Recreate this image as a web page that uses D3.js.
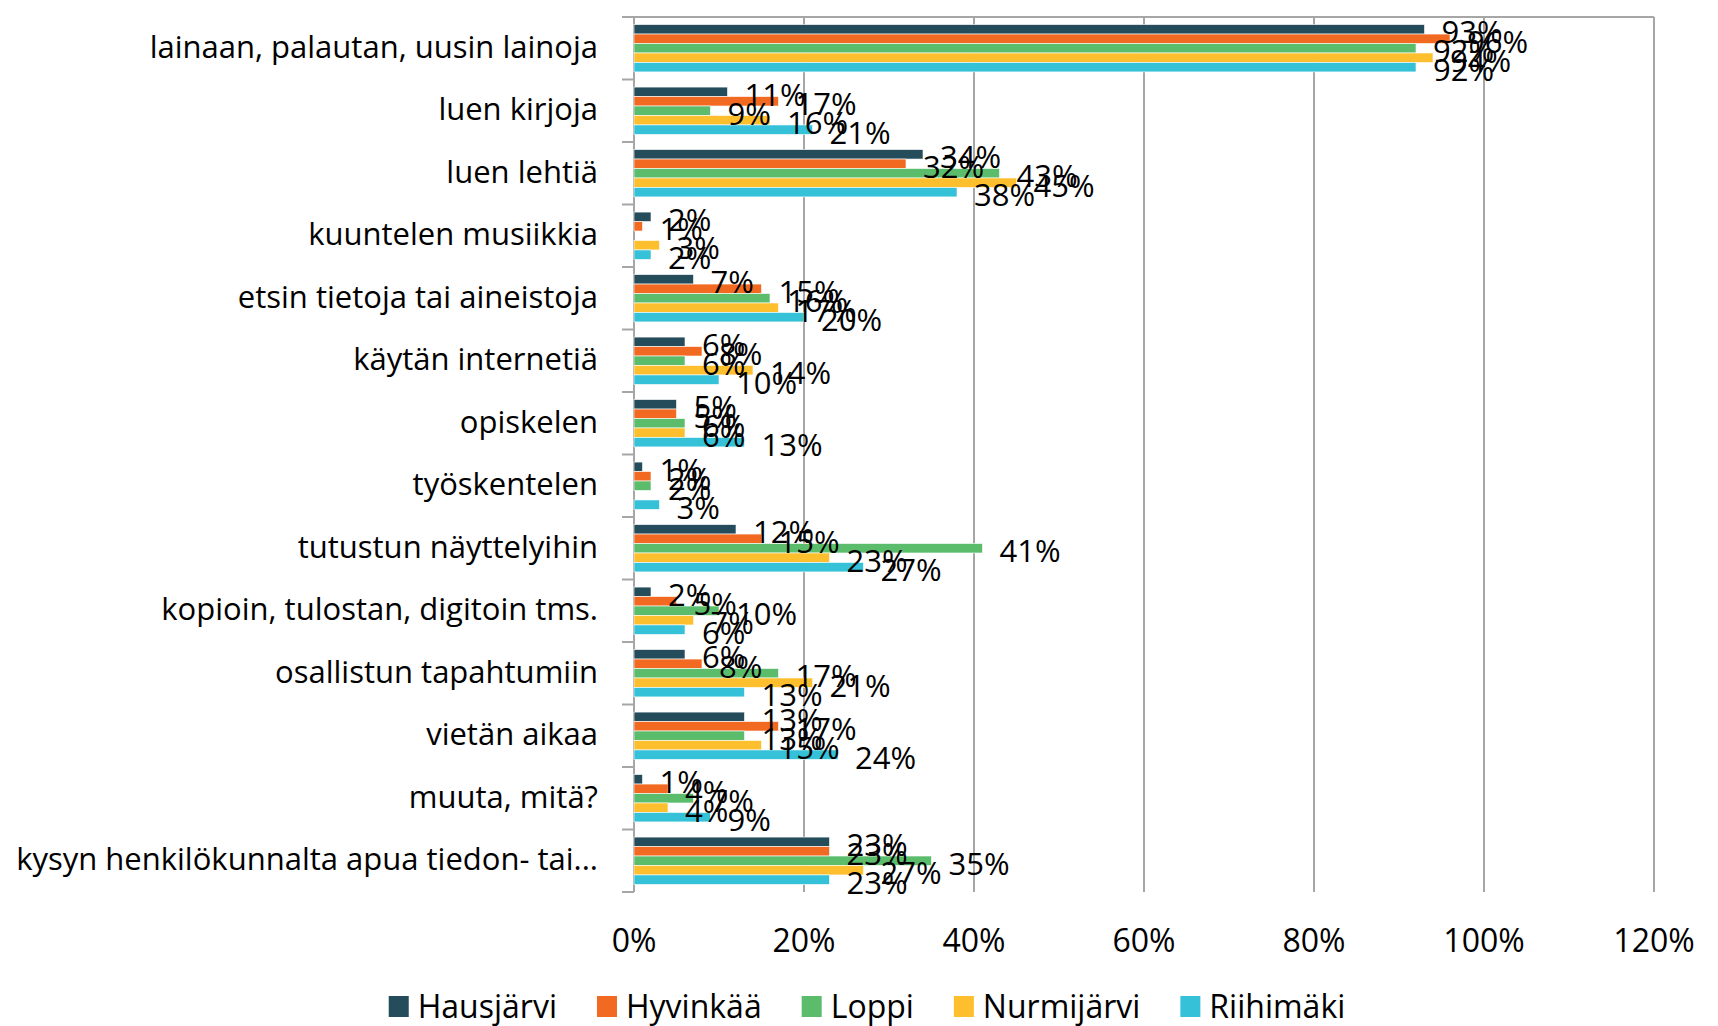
<html>

<head>
    <title>Kirjaston käyttö</title>
    <script src='https://d3js.org/d3.v7.min.js'></script>
    <style>
        body { margin: 0; background: #fff; }
        text { font-family: "Open Sans", sans-serif; fill: #000; }
        .grid line { stroke: #a6a6a6; stroke-width: 2; }
    </style>
</head>

<body>
    <svg id="chart"></svg>
    <script>
        var categories = [
            "lainaan, palautan, uusin lainoja",
            "luen kirjoja",
            "luen lehtiä",
            "kuuntelen musiikkia",
            "etsin tietoja tai aineistoja",
            "käytän internetiä",
            "opiskelen",
            "työskentelen",
            "tutustun näyttelyihin",
            "kopioin, tulostan, digitoin tms.",
            "osallistun tapahtumiin",
            "vietän aikaa",
            "muuta, mitä?",
            "kysyn henkilökunnalta apua tiedon- tai..."
        ];
        var seriesNames = ["Hausjärvi", "Hyvinkää", "Loppi", "Nurmijärvi", "Riihimäki"];
        var colors = ["#244c5a", "#f26a21", "#5bbd6b", "#fdbf2d", "#35c1d8"];
        // values in %, null = no bar
        var hausjarvi  = [93, 11, 34, 2, 7, 6, 5, 1, 12, 2, 6, 13, 1, 23];
        var hyvinkaa   = [96, 17, 32, 1, 15, 8, 5, 2, 15, 5, 8, 17, 4, 23];
        var loppi      = [92, 9, 43, null, 16, 6, 6, 2, 41, 10, 17, 13, 7, 35];
        var nurmijarvi = [94, 16, 45, 3, 17, 14, 6, null, 23, 7, 21, 15, 4, 27];
        var riihimaki  = [92, 21, 38, 2, 20, 10, 13, 3, 27, 6, 13, 24, 9, 23];
        var tickValues = [0, 20, 40, 60, 80, 100, 120];

        var allSeries = [hausjarvi, hyvinkaa, loppi, nurmijarvi, riihimaki];
        var W = 1718, H = 1026;
        var plotLeft = 634, plotRight = 1654, plotTop = 17, plotBottom = 892;

        var svg = d3.select("#chart").attr("width", W).attr("height", H);

        var x = d3.scaleLinear().domain([0, 120]).range([plotLeft, plotRight]);
        var y = d3.scaleBand().domain(categories).range([plotTop, plotBottom]).padding(0);
        var ySub = d3.scaleBand().domain(seriesNames).range([0, y.bandwidth()])
            .paddingInner(0).paddingOuter(0.8);

        // vertical gridlines
        svg.append("g").attr("class", "grid")
            .selectAll("line").data(tickValues.slice(1)).enter().append("line")
            .attr("x1", function (d) { return x(d); })
            .attr("x2", function (d) { return x(d); })
            .attr("y1", plotTop).attr("y2", plotBottom);

        // value axis line on top
        svg.append("g").attr("class", "grid").append("line")
            .attr("x1", plotLeft - 12).attr("x2", plotRight).attr("y1", plotTop).attr("y2", plotTop);

        // category axis with outward ticks at the band boundaries
        var yAxis = svg.append("g").attr("class", "grid");
        yAxis.append("line").attr("x1", plotLeft).attr("x2", plotLeft).attr("y1", plotTop).attr("y2", plotBottom);
        yAxis.selectAll("line.tick").data(categories).enter().append("line")
            .attr("class", "tick")
            .attr("x1", plotLeft - 12).attr("x2", plotLeft)
            .attr("y1", function (d) { return y(d) + y.bandwidth(); })
            .attr("y2", function (d) { return y(d) + y.bandwidth(); });

        // category labels
        svg.append("g").selectAll("text").data(categories).enter().append("text")
            .attr("x", plotLeft - 36)
            .attr("y", function (d) { return y(d) + y.bandwidth() / 2; })
            .attr("dy", "0.3em")
            .attr("text-anchor", "end")
            .style("font-size", "31px")
            .text(function (d) { return d; });

        // tick labels
        svg.append("g").selectAll("text").data(tickValues).enter().append("text")
            .attr("x", function (d) { return x(d); })
            .attr("y", 952)
            .attr("text-anchor", "middle")
            .style("font-size", "32px")
            .text(function (d) { return d + "%"; });

        // bars and labels
        allSeries.forEach(function (vals, s) {
            var name = seriesNames[s];
            var rows = categories.map(function (c, i) { return { cat: c, v: vals[i] }; })
                .filter(function (d) { return d.v !== null; });
            var g = svg.append("g");
            g.selectAll("rect").data(rows).enter().append("rect")
                .attr("x", x(0))
                .attr("y", function (d) { return y(d.cat) + ySub(name); })
                .attr("width", function (d) { return x(d.v) - x(0); })
                .attr("height", ySub.bandwidth())
                .attr("fill", colors[s])
                .attr("stroke", "#fff")
                .attr("stroke-width", 0.6);
        });
        // labels drawn after all bars so they sit on top
        allSeries.forEach(function (vals, s) {
            var name = seriesNames[s];
            var rows = categories.map(function (c, i) { return { cat: c, v: vals[i] }; })
                .filter(function (d) { return d.v !== null; });
            svg.append("g").selectAll("text").data(rows).enter().append("text")
                .attr("x", function (d) { return x(d.v) + 17; })
                .attr("y", function (d) { return y(d.cat) + ySub(name) + ySub.bandwidth() / 2; })
                .attr("dy", "0.45em")
                .style("font-size", "31px")
                .text(function (d) { return d.v + "%"; });
        });

        // legend
        var legend = svg.append("g");
        var lx = 0;
        seriesNames.forEach(function (name, s) {
            var item = legend.append("g").attr("transform", "translate(" + lx + ",0)");
            item.append("rect").attr("x", 0).attr("y", 996).attr("width", 20).attr("height", 21)
                .attr("fill", colors[s]);
            var t = item.append("text").attr("x", 29).attr("y", 1018)
                .style("font-size", "32px").text(name);
            lx += 29 + t.node().getComputedTextLength() + 40;
        });
        var legendWidth = lx - 40;
        legend.attr("transform", "translate(" + (867 - legendWidth / 2) + ",0)");
    </script>
</body>

</html>
